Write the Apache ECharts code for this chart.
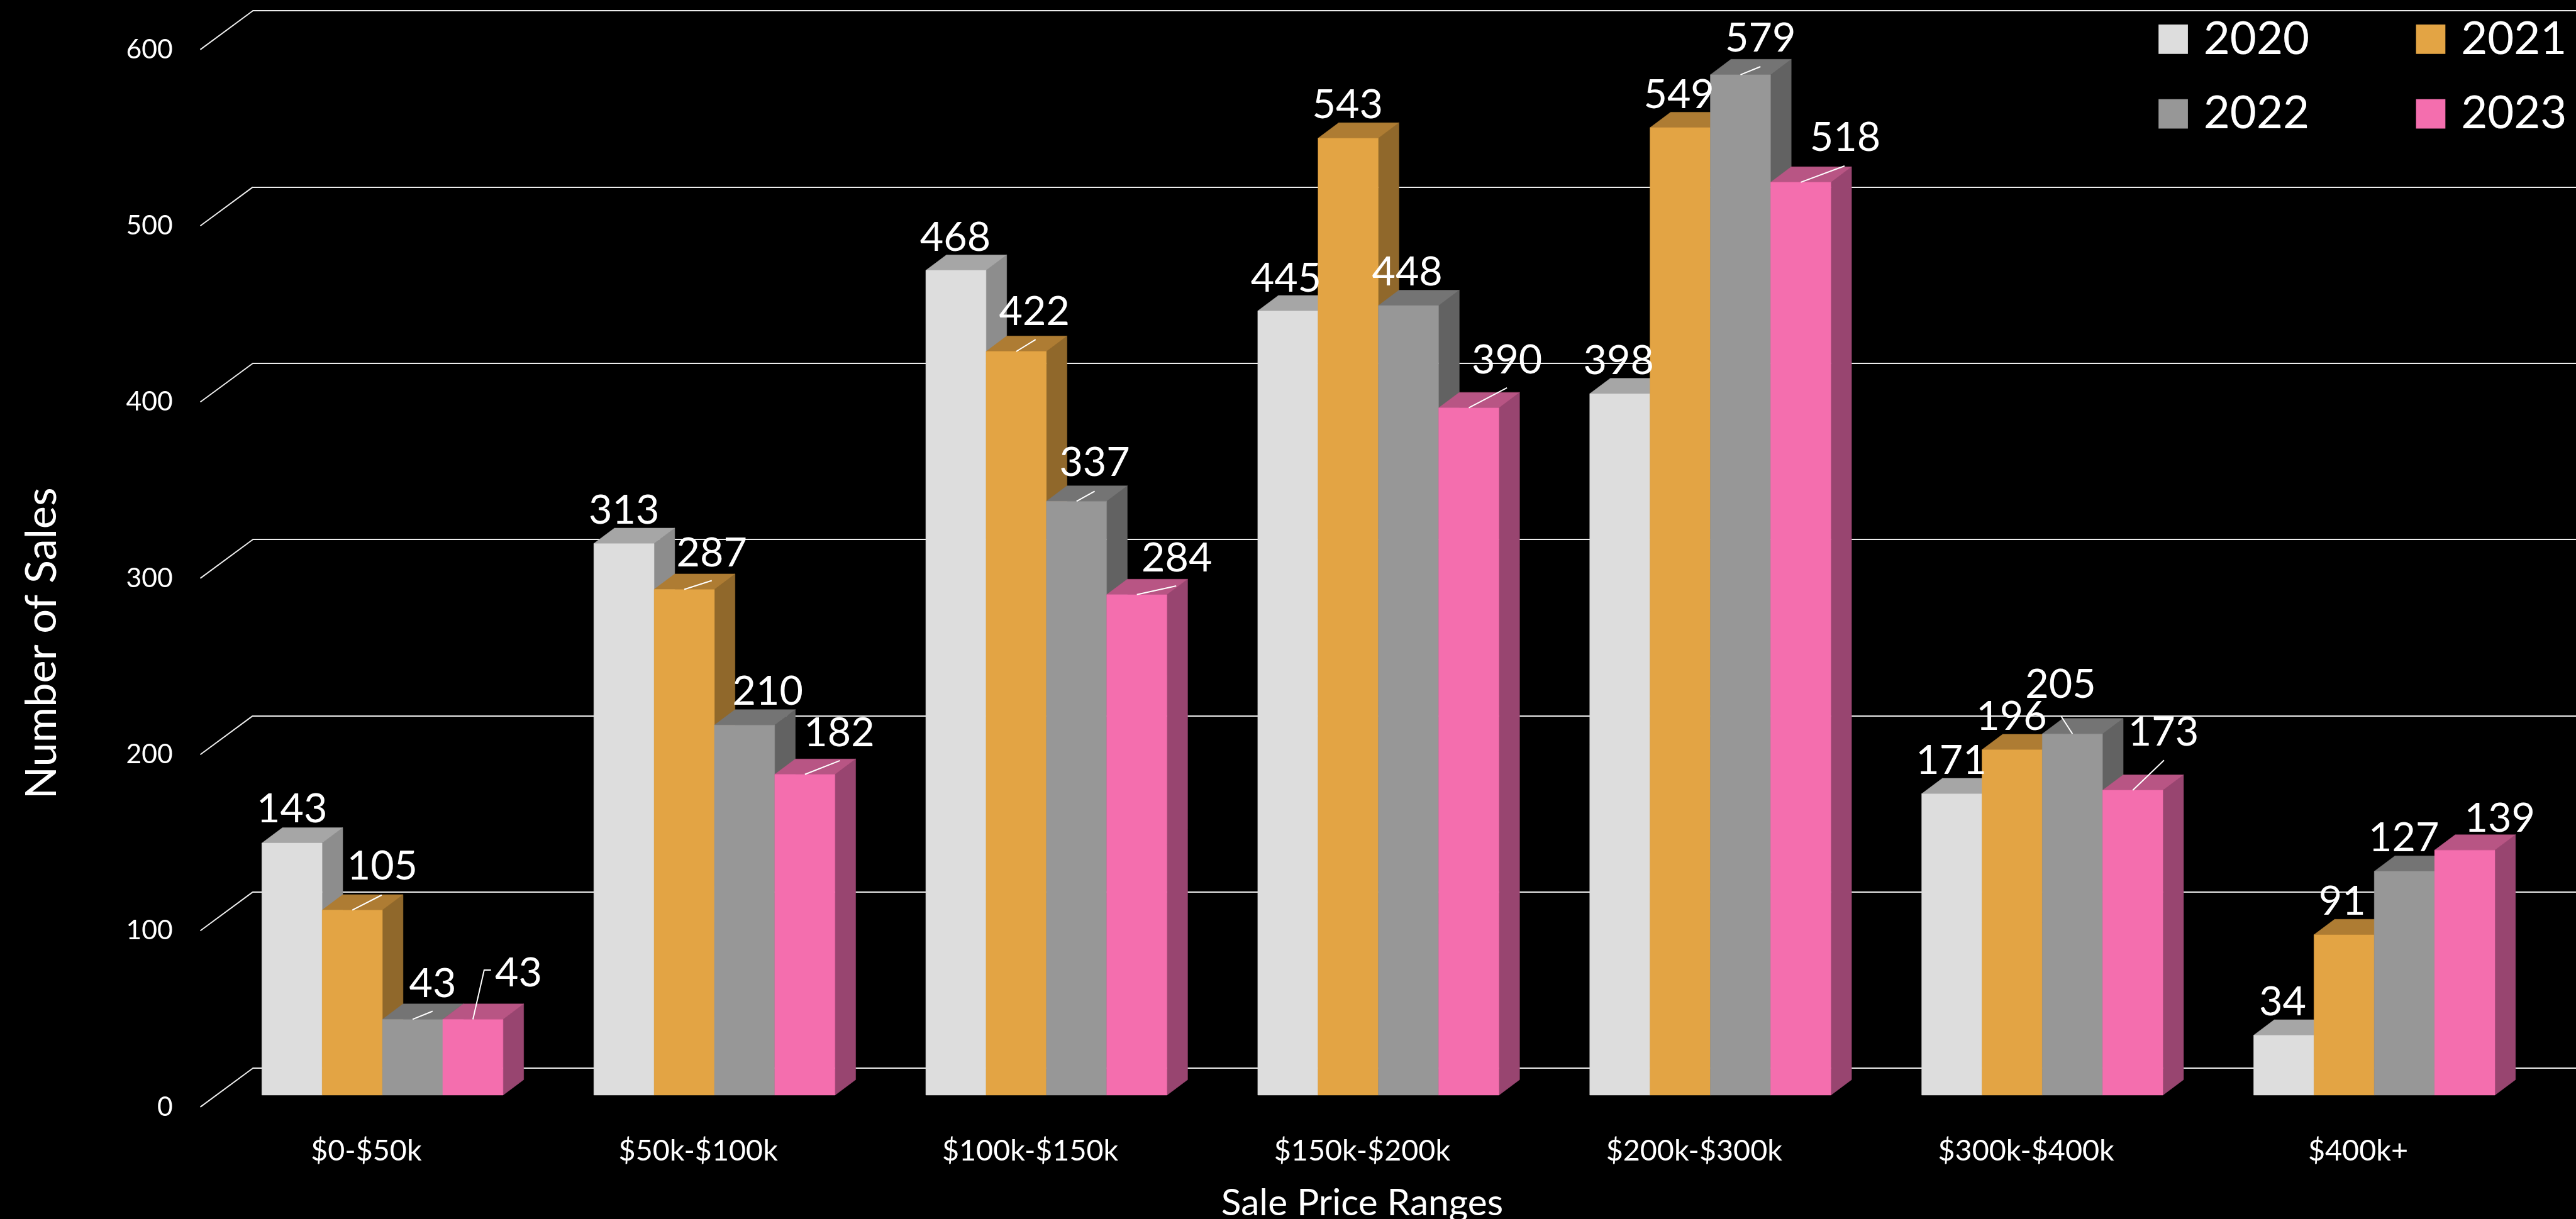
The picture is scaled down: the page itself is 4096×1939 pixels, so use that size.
<!DOCTYPE html>
<html>
<head>
<meta charset="utf-8">
<title>Number of Sales by Sale Price Range</title>
<style>
  html, body { margin: 0; padding: 0; background: #000; }
  #chart { width: 4096px; height: 1939px; }
</style>
<script src="https://cdn.jsdelivr.net/npm/echarts@6/dist/echarts.min.js"></script>
</head>
<body>
<div id="chart"></div>
<script>
// Sales counts per price range, one list per year
const categories = ['$0-$50k', '$50k-$100k', '$100k-$150k', '$150k-$200k', '$200k-$300k', '$300k-$400k', '$400k+'];
const sales2020 = [143, 313, 468, 445, 398, 171, 34];
const sales2021 = [105, 287, 422, 543, 549, 196, 91];
const sales2022 = [43, 210, 337, 448, 579, 205, 127];
const sales2023 = [43, 182, 284, 390, 518, 173, 139];
const years = ['2020', '2021', '2022', '2023'];
const yTicks = [0, 100, 200, 300, 400, 500, 600];

const salesByYear = [sales2020, sales2021, sales2022, sales2023];

// Layout is worked out on a 4122-wide page and scaled to the window
const S = 4096 / 4122;
const FONT = 'Lato';

// Oblique projection of the bars and of the wall
const BAR_RATIO = 96.5 / 531.2;
const BAR_DEPTH = [33 * S, 24.7 * S];
const WALL_DEPTH = [84 * S, 62 * S];

// front, top and side face colours per year
const faces = [
  { front: '#DDDDDD', top: '#A6A6A6', side: '#8D8D8D' },
  { front: '#E3A444', top: '#AE7C33', side: '#90682B' },
  { front: '#979797', top: '#747474', side: '#626262' },
  { front: '#F46EAE', top: '#B85584', side: '#984570' }
];

// Hand-placed data labels: offset of the label centre from the bar's top front edge
const labelOffsets = [
  [[0, -57], [0, -56], [-1, -55], [-3, -55], [-2, -55], [-1, -56], [-2, -56]],
  [[48, -73], [44, -61], [29, -66], [-1, -56], [-2, -55], [-1, -56], [-3, -56]],
  [[32, -60], [37, -56], [29, -64], [-2, -56], [32, -61], [-19, -82], [-1, -56]],
  [[73, -77], [55, -69], [64, -61], [61, -79], [71, -74], [49, -95], [56, -53]]
];
const LABEL_BASELINE_SHIFT = 3;

// Leader lines run from the bar's top front edge through these offsets
const leaderPaths = [
  [null, null, null, null, null, null, null],
  [[[47, -24]], [[44, -14]], [[31, -19]], null, null, null, null],
  [[[32, -13]], null, [[29, -16]], null, [[32, -13]], [[-18, -28]], null],
  [[[18, -79], [29, -79]], [[56, -22]], [[63, -14]], [[61, -32]], [[70, -26]], [[50, -48]], null]
];

const px = (v) => v * S;

const gridBars = { left: px(346.4), top: px(60.4), width: px(3718.4), height: px(1692.6), outerBoundsMode: 'none' };
const gridWall = { left: px(404), top: px(17), right: 0, height: px(1693), outerBoundsMode: 'none' };
const gridFront = { left: px(320.5), top: px(79.4), width: px(3718.4), height: px(1692.6), outerBoundsMode: 'none' };

function renderBar(yearIndex) {
  const face = faces[yearIndex];
  return function (params, api) {
    const cat = api.value(0);
    const top = api.coord([cat, api.value(1)]);
    const baseY = api.coord([cat, 0])[1];
    const w = api.size([1, 0])[0] * BAR_RATIO;
    const x0 = top[0] + (yearIndex - 2) * w;
    const x1 = x0 + w;
    const [dx, dy] = BAR_DEPTH;
    const poly = (points, fill) => ({
      type: 'polygon',
      shape: { points },
      style: { fill, stroke: fill, lineWidth: 0.5 }
    });
    return {
      type: 'group',
      children: [
        poly([[x1, top[1]], [x1 + dx, top[1] - dy], [x1 + dx, baseY - dy], [x1, baseY]], face.side),
        poly([[x0, top[1]], [x0 + dx, top[1] - dy], [x1 + dx, top[1] - dy], [x1, top[1]]], face.top),
        poly([[x0, top[1]], [x1, top[1]], [x1, baseY], [x0, baseY]], face.front)
      ]
    };
  };
}

function renderWallTick(params, api) {
  const y = api.coord([0, api.value(1)])[1];
  const x = params.coordSys.x;
  return {
    type: 'line',
    shape: { x1: x, y1: y, x2: x + WALL_DEPTH[0], y2: y - WALL_DEPTH[1] },
    style: { stroke: '#EDEDED', lineWidth: 2 }
  };
}

function renderLabel(params, api) {
  const cat = api.value(0);
  const yearIndex = api.value(1);
  const value = api.value(2);
  const top = api.coord([cat, value]);
  const w = api.size([1, 0])[0] * BAR_RATIO;
  const cx = top[0] + (yearIndex - 1.5) * w;
  const off = labelOffsets[yearIndex][cat];
  const path = leaderPaths[yearIndex][cat];
  const children = [];
  if (path) {
    const points = [[cx, top[1]]].concat(path.map((p) => [cx + px(p[0]), top[1] + px(p[1])]));
    children.push({
      type: 'polyline',
      shape: { points },
      style: { fill: 'none', stroke: '#FFFFFF', lineWidth: 2 }
    });
  }
  children.push({
    type: 'text',
    style: {
      text: String(value),
      x: cx + px(off[0]),
      y: top[1] + px(off[1] + LABEL_BASELINE_SHIFT),
      fill: '#FFFFFF',
      fontFamily: FONT,
      fontSize: px(65),
      align: 'center',
      verticalAlign: 'middle'
    }
  });
  return { type: 'group', children };
}

const labelData = [];
salesByYear.forEach((values, yearIndex) => {
  values.forEach((v, cat) => labelData.push([cat, yearIndex, v]));
});

const barSeries = years.map((year, i) => ({
  name: year,
  type: 'custom',
  xAxisIndex: 0,
  yAxisIndex: 0,
  renderItem: renderBar(i),
  encode: { x: 0, y: 1 },
  itemStyle: { color: faces[i].front },
  data: salesByYear[i].map((v, cat) => [cat, v]),
  clip: false,
  z: 3 + i
}));

const legendBase = {
  orient: 'vertical',
  padding: 0,
  top: px(26),
  itemWidth: px(47),
  itemHeight: px(47),
  itemGap: px(46),
  icon: 'rect',
  selectedMode: false,
  textStyle: {
    color: '#FFFFFF',
    fontFamily: FONT,
    fontSize: px(73),
    lineHeight: px(47),
    padding: [0, 0, 0, px(20)]
  }
};

const option = {
  backgroundColor: '#000000',
  animation: false,
  textStyle: { fontFamily: FONT },
  legend: [
    Object.assign({}, legendBase, { left: px(3454), data: [years[0], years[2]] }),
    Object.assign({}, legendBase, { left: px(3866), data: [years[1], years[3]] })
  ],
  grid: [gridBars, gridWall, gridFront],
  xAxis: [
    { gridIndex: 0, type: 'category', data: categories, show: false },
    { gridIndex: 1, type: 'category', data: categories, show: false },
    {
      gridIndex: 2,
      type: 'category',
      data: categories,
      axisLine: { show: false },
      axisTick: { show: false },
      axisLabel: { color: '#FFFFFF', fontFamily: FONT, fontSize: px(47), margin: px(47), interval: 0 },
      name: 'Sale Price Ranges',
      nameLocation: 'middle',
      nameGap: px(125),
      nameTextStyle: { color: '#FFFFFF', fontFamily: FONT, fontSize: px(59) }
    }
  ],
  yAxis: [
    { gridIndex: 0, type: 'value', min: 0, max: 600, interval: 100, show: false },
    {
      gridIndex: 1,
      type: 'value',
      min: 0,
      max: 600,
      interval: 100,
      axisLine: { show: false },
      axisTick: { show: false },
      axisLabel: { show: false },
      splitLine: { show: true, lineStyle: { color: '#EDEDED', width: 2 } }
    },
    {
      gridIndex: 2,
      type: 'value',
      min: 0,
      max: 600,
      interval: 100,
      axisLine: { show: false },
      axisTick: { show: false },
      splitLine: { show: false },
      axisLabel: { color: '#FFFFFF', fontFamily: FONT, fontSize: px(43), margin: px(44) },
      name: 'Number of Sales',
      nameLocation: 'middle',
      nameGap: px(218),
      nameTextStyle: { color: '#FFFFFF', fontFamily: FONT, fontSize: px(69), padding: [0, px(208), 0, 0] }
    }
  ],
  series: [
    {
      name: 'wall ticks',
      type: 'custom',
      xAxisIndex: 2,
      yAxisIndex: 2,
      renderItem: renderWallTick,
      encode: { x: 0, y: 1 },
      data: yTicks.map((v) => [0, v]),
      clip: false,
      z: 1
    }
  ].concat(barSeries, [
    {
      name: 'value labels',
      type: 'custom',
      xAxisIndex: 0,
      yAxisIndex: 0,
      renderItem: renderLabel,
      encode: { x: 0, y: 2 },
      data: labelData,
      clip: false,
      z: 10
    }
  ])
};

const chart = echarts.init(document.getElementById('chart'));
chart.setOption(option);
</script>
</body>
</html>
